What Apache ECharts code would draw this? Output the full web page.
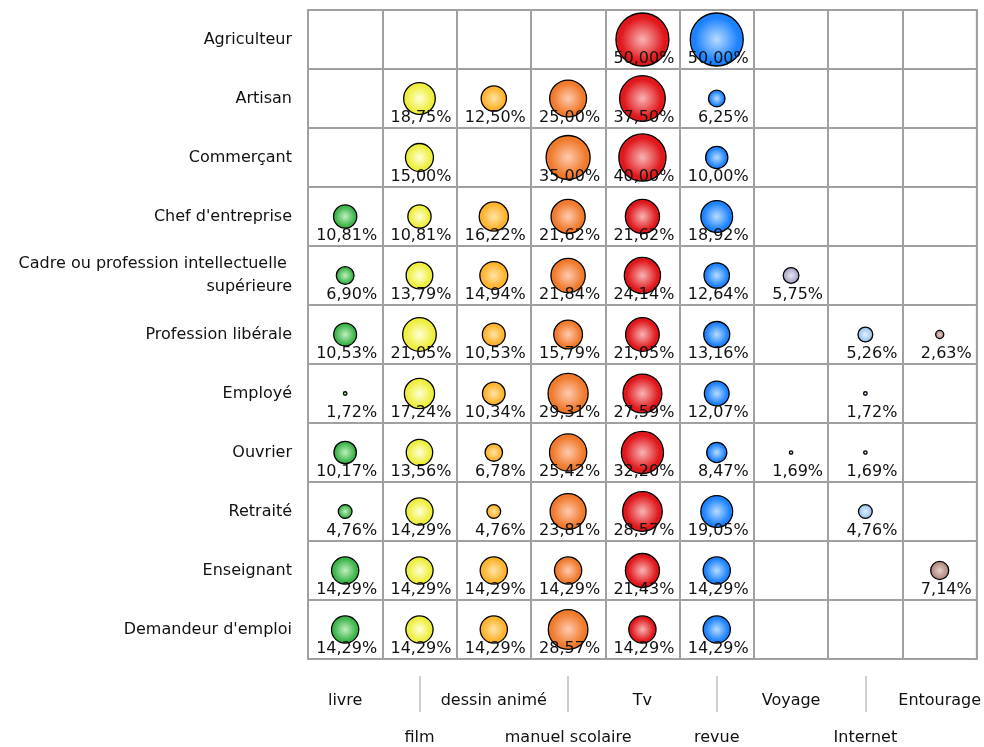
<!DOCTYPE html>
<html>
<head>
<meta charset="utf-8">
<script src="https://cdn.jsdelivr.net/npm/echarts@6/dist/echarts.min.js"></script>
<style>
  html, body { margin: 0; padding: 0; background: #fff; }
  #chart { width: 984px; height: 747px; }
</style>
</head>
<body>
<div id="chart"></div>
<script>
// media used, by profession (percent of the row)
const columns = ['livre', 'film', 'dessin animé', 'manuel scolaire', 'Tv', 'revue', 'Voyage', 'Internet', 'Entourage'];
const rows = [
  'Agriculteur', 'Artisan', 'Commerçant', "Chef d'entreprise",
  'Cadre ou profession intellectuelle \nsupérieure', 'Profession libérale',
  'Employé', 'Ouvrier', 'Retraité', 'Enseignant', "Demandeur d'emploi"
];

// one array per column, in row order (null = empty cell)
const livre          = [null, null, null, 10.81, 6.90, 10.53, 1.72, 10.17, 4.76, 14.29, 14.29];
const film           = [null, 18.75, 15.00, 10.81, 13.79, 21.05, 17.24, 13.56, 14.29, 14.29, 14.29];
const dessinAnime    = [null, 12.50, null, 16.22, 14.94, 10.53, 10.34, 6.78, 4.76, 14.29, 14.29];
const manuelScolaire = [null, 25.00, 35.00, 21.62, 21.84, 15.79, 29.31, 25.42, 23.81, 14.29, 28.57];
const tv             = [50.00, 37.50, 40.00, 21.62, 24.14, 21.05, 27.59, 32.20, 28.57, 21.43, 14.29];
const revue          = [50.00, 6.25, 10.00, 18.92, 12.64, 13.16, 12.07, 8.47, 19.05, 14.29, 14.29];
const voyage         = [null, null, null, null, 5.75, null, null, 1.69, null, null, null];
const internet       = [null, null, null, null, null, 5.26, 1.72, 1.69, 4.76, null, null];
const entourage      = [null, null, null, null, null, 2.63, null, null, null, 7.14, null];

const columnValues = [livre, film, dessinAnime, manuelScolaire, tv, revue, voyage, internet, entourage];

const baseColors  = ['#3cb44a', '#eeee3c', '#ffb22a', '#f07a2c', '#e0181c', '#1c82ff', '#a8a8c8', '#9cc6f0', '#b08a82'];
const lightColors = ['#c0f0c0', '#ffffd8', '#ffe4a8', '#ffcab0', '#f8b4b4', '#b8dcff', '#e6e6f4', '#e4f2ff', '#e8d0ca'];

const FONT = 'DejaVu Sans';
const chart = echarts.init(document.getElementById('chart'));

function bubbleSize(v) {
  return Math.max(3, 53 * Math.sqrt(Math.max(v - 1.5, 0) / 48.5));
}

const series = columnValues.map((vals, c) => {
  const data = [];
  vals.forEach((v, r) => { if (v !== null) data.push([c, r, v]); });
  return {
    name: columns[c],
    type: 'scatter',
    data: data,
    symbol: 'circle',
    symbolSize: d => bubbleSize(d[2]),
    itemStyle: {
      borderColor: '#000',
      borderWidth: 1.3,
      opacity: 1,
      color: {
        type: 'radial', x: 0.5, y: 0.5, r: 0.5,
        colorStops: [
          { offset: 0, color: lightColors[c] },
          { offset: 0.8, color: baseColors[c] },
          { offset: 1, color: baseColors[c] }
        ]
      }
    },
    label: {
      show: true,
      position: 'inside',
      align: 'right',
      verticalAlign: 'middle',
      offset: [32, 19],
      color: '#111',
      fontFamily: FONT,
      fontSize: 16,
      formatter: p => p.value[2].toFixed(2).replace('.', ',') + '%'
    },
    emphasis: { disabled: true }
  };
});

const option = {
  animation: false,
  backgroundColor: '#fff',
  grid: {
    left: 308, top: 10, width: 671, height: 649,
    show: true, borderColor: '#a0a0a0', borderWidth: 2
  },
  xAxis: [
    {
      type: 'category',
      data: columns,
      position: 'bottom',
      axisLine: { show: false },
      axisTick: { show: false },
      splitLine: { show: true, interval: 0, lineStyle: { color: '#a0a0a0', width: 2 } },
      axisLabel: {
        interval: (i) => i % 2 === 0,
        margin: 34,
        color: '#111',
        fontFamily: FONT,
        fontSize: 16
      }
    },
    {
      type: 'category',
      data: columns,
      position: 'bottom',
      offset: 17,
      axisLine: { show: false },
      axisTick: {
        show: true,
        alignWithLabel: true,
        interval: (i) => i % 2 === 1,
        length: 36,
        lineStyle: { color: '#cfcfcf', width: 2 }
      },
      splitLine: { show: false },
      axisLabel: {
        interval: (i) => i % 2 === 1,
        margin: 54,
        color: '#111',
        fontFamily: FONT,
        fontSize: 16
      }
    }
  ],
  yAxis: {
    type: 'category',
    data: rows,
    inverse: true,
    axisLine: { show: false },
    axisTick: { show: false },
    splitLine: { show: true, interval: 0, lineStyle: { color: '#a0a0a0', width: 2 } },
    axisLabel: {
      interval: 0,
      margin: 16,
      color: '#111',
      fontFamily: FONT,
      fontSize: 16,
      lineHeight: 23,
      align: 'right'
    }
  },
  series: series
};

chart.setOption(option);
</script>
</body>
</html>
